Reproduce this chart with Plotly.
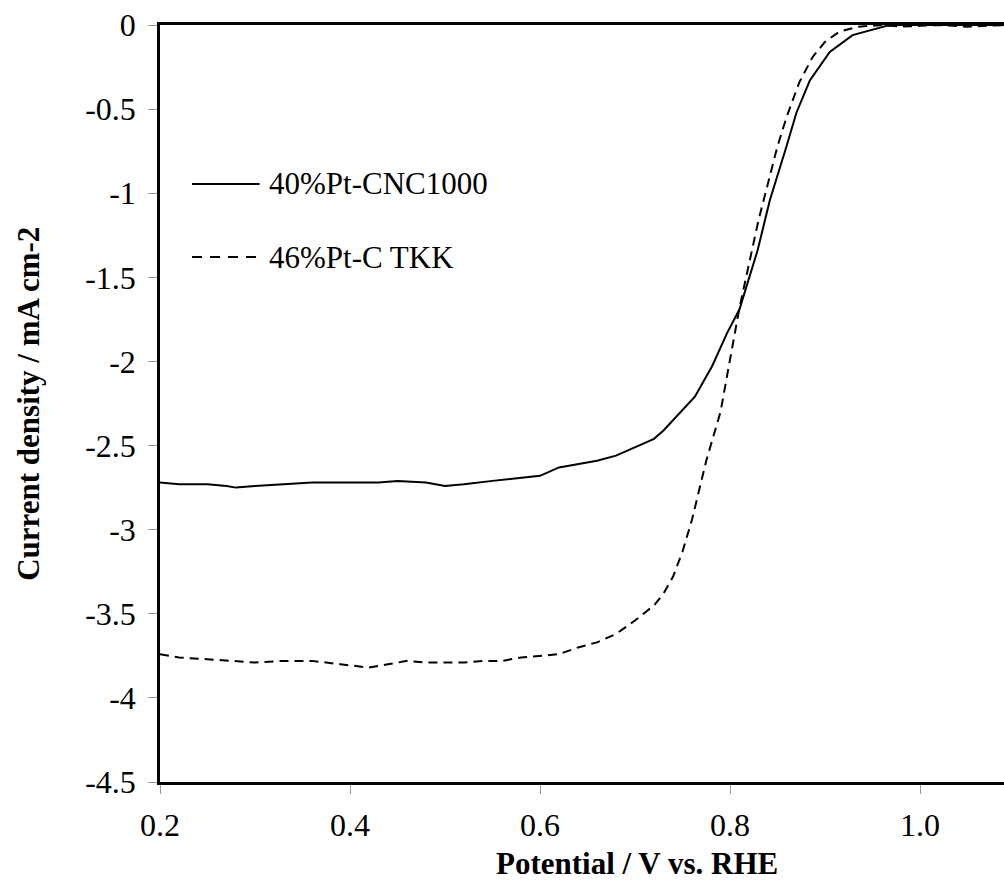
import plotly.graph_objects as go

# 40%Pt-CNC1000 (solid)
x_cnc = [0.20, 0.22, 0.25, 0.27, 0.28, 0.30, 0.33, 0.36, 0.40, 0.43, 0.45, 0.48, 0.50,
         0.52, 0.55, 0.58, 0.60, 0.62, 0.64, 0.66, 0.68, 0.70, 0.72, 0.73, 0.74, 0.749,
         0.763, 0.771, 0.781, 0.797, 0.810, 0.829, 0.842, 0.859, 0.870, 0.884, 0.905,
         0.929, 0.950, 0.965, 0.980, 1.000, 1.040, 1.090]
y_cnc = [-2.72, -2.73, -2.73, -2.74, -2.75, -2.74, -2.73, -2.72, -2.72, -2.72, -2.71, -2.72, -2.74,
         -2.73, -2.71, -2.69, -2.68, -2.63, -2.61, -2.59, -2.56, -2.51, -2.46, -2.41, -2.35, -2.30,
         -2.21, -2.13, -2.03, -1.83, -1.69, -1.34, -1.04, -0.73, -0.52, -0.33, -0.16,
         -0.06, -0.027, -0.005, 0.0, 0.0, 0.0, 0.0]

# 46%Pt-C TKK (dashed)
x_tkk = [0.20, 0.22, 0.25, 0.28, 0.30, 0.33, 0.36, 0.39, 0.42, 0.44, 0.46, 0.48, 0.50, 0.52,
         0.54, 0.56, 0.58, 0.60, 0.62, 0.64, 0.66, 0.68, 0.70, 0.72, 0.73, 0.74, 0.75, 0.76,
         0.775, 0.79, 0.80, 0.81, 0.82, 0.83, 0.84, 0.85, 0.86, 0.873, 0.887, 0.90, 0.915,
         0.935, 0.96, 0.98, 1.00, 1.02, 1.05, 1.09]
y_tkk = [-3.74, -3.76, -3.77, -3.78, -3.79, -3.78, -3.78, -3.80, -3.82, -3.80, -3.78, -3.79, -3.79, -3.79,
         -3.78, -3.78, -3.76, -3.75, -3.74, -3.70, -3.67, -3.62, -3.54, -3.45, -3.38, -3.28, -3.13, -2.94,
         -2.59, -2.30, -2.00, -1.68, -1.42, -1.16, -0.94, -0.72, -0.54, -0.34, -0.19, -0.10, -0.04,
         -0.01, 0.0, -0.01, -0.005, 0.0, -0.01, 0.0]

x_ticks = [0.2, 0.4, 0.6, 0.8, 1.0]
x_ticktext = ["0.2", "0.4", "0.6", "0.8", "1.0"]
y_ticks = [0, -0.5, -1, -1.5, -2, -2.5, -3, -3.5, -4, -4.5]
y_ticktext = ["0", "-0.5", "-1", "-1.5", "-2", "-2.5", "-3", "-3.5", "-4", "-4.5"]

series_names = ["40%Pt-CNC1000", "46%Pt-C TKK"]
x_title = "Potential / V vs. RHE"
y_title = "Current density / mA cm-2"

FONT = "Times New Roman, Liberation Serif, serif"

fig = go.Figure()
fig.add_trace(go.Scatter(x=x_cnc, y=y_cnc, mode="lines", name=series_names[0],
                         line=dict(color="black", width=2), showlegend=False))
fig.add_trace(go.Scatter(x=x_tkk, y=y_tkk, mode="lines", name=series_names[1],
                         line=dict(color="black", width=2, dash="9px,6px"), showlegend=False))

# manual legend (Excel-style long sample lines)
leg_y = [0.790, 0.6935]
leg_dash = ["solid", "10px,8px"]
for name, yy, dsh in zip(series_names, leg_y, leg_dash):
    fig.add_shape(type="line", xref="paper", yref="paper", x0=0.038, x1=0.118, y0=yy, y1=yy,
                  line=dict(color="black", width=2, dash=dsh))
    fig.add_annotation(xref="paper", yref="paper", x=0.127, y=yy, text=name, showarrow=False,
                       xanchor="left", yanchor="middle",
                       font=dict(family=FONT, size=31, color="black"))

# axis titles (chart is cropped on the right, so the x title sits right of the visible centre)
fig.add_annotation(xref="paper", yref="paper", x=0.565, y=-0.108, text="<b>" + x_title + "</b>",
                   showarrow=False, xanchor="center", yanchor="middle",
                   font=dict(family=FONT, size=31, color="black"))
fig.add_annotation(xref="paper", yref="paper", x=-0.156, y=0.5, text="<b>" + y_title + "</b>",
                   showarrow=False, xanchor="center", yanchor="middle", textangle=-90,
                   font=dict(family=FONT, size=31, color="black"))

fig.update_layout(
    width=1004, height=895,
    margin=dict(l=160, r=0, t=25, b=113, pad=0),
    paper_bgcolor="white", plot_bgcolor="white",
    font=dict(family=FONT, color="black"),
    xaxis=dict(range=[0.2, 1.0884], tickvals=x_ticks, ticktext=x_ticktext,
               showgrid=False, zeroline=False, showline=True, linecolor="black", linewidth=2.5,
               mirror=True, ticks="outside", ticklen=9, tickwidth=1, tickcolor="#999999",
               tickfont=dict(family=FONT, size=32, color="black"), ticklabelstandoff=4),
    yaxis=dict(range=[-4.5, 0], tickvals=y_ticks, ticktext=y_ticktext,
               showgrid=False, zeroline=False, showline=True, linecolor="black", linewidth=2.5,
               ticks="outside", ticklen=9, tickwidth=1, tickcolor="#999999",
               tickfont=dict(family=FONT, size=32, color="black"), ticklabelstandoff=6),
)

fig.write_html("out.html")
